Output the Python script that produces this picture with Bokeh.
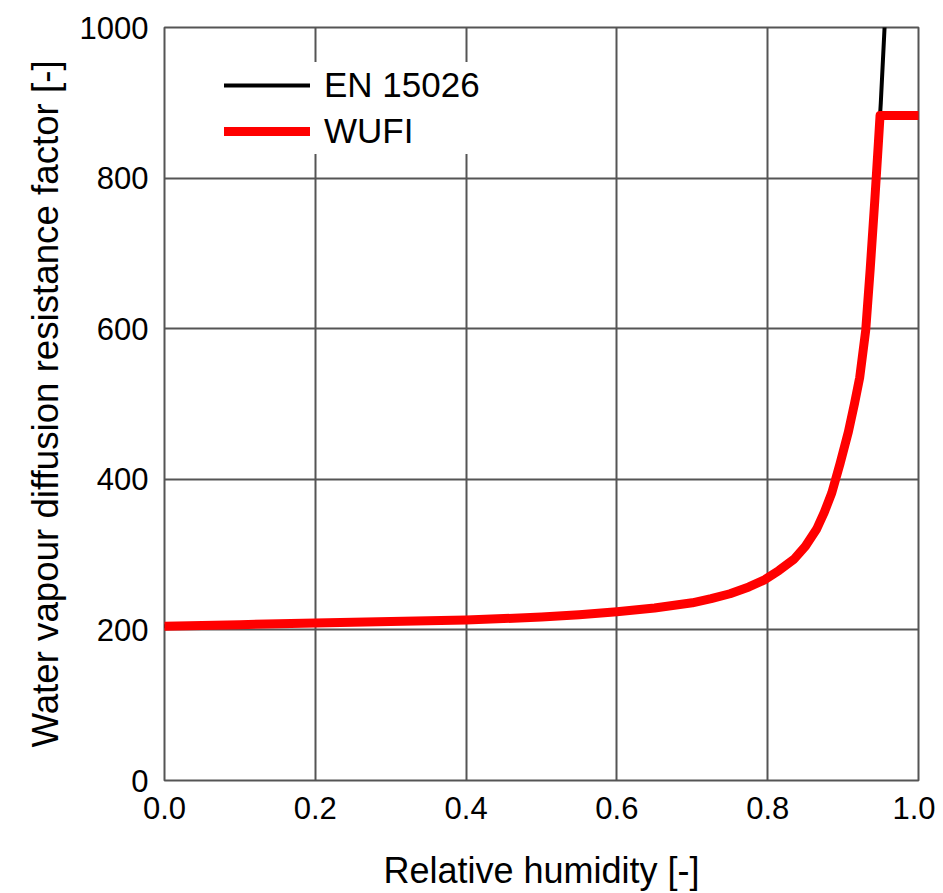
from bokeh.plotting import figure
from bokeh.models import Range1d, Legend, LegendItem, FixedTicker, Title
from bokeh.embed import file_html
from bokeh.resources import INLINE

# Relative humidity values (x) and diffusion resistance factors (y)
rh_wufi = [0.0, 0.1, 0.2, 0.3, 0.4, 0.5, 0.55, 0.6, 0.65, 0.7, 0.725, 0.75, 0.775, 0.795,
           0.815, 0.835, 0.85, 0.865, 0.875, 0.885, 0.896, 0.907, 0.915, 0.922,
           0.930, 0.936, 0.942, 0.947, 0.949, 1.0]
mu_wufi = [205, 207, 209, 211, 213, 217, 220, 224, 229, 236, 241.5, 248, 257, 266,
           279, 294, 311, 334, 356, 382, 421, 463, 500, 535,
           598, 680, 770, 850, 883, 883]

rh_en = [0.0, 0.1, 0.2, 0.3, 0.4, 0.5, 0.55, 0.6, 0.65, 0.7, 0.725, 0.75, 0.775, 0.795,
         0.815, 0.835, 0.85, 0.865, 0.875, 0.885, 0.896, 0.907, 0.915, 0.922,
         0.930, 0.936, 0.942, 0.947, 0.950, 0.956]
mu_en = [205, 207, 209, 211, 213, 217, 220, 224, 229, 236, 241.5, 248, 257, 266,
         279, 294, 311, 334, 356, 382, 421, 463, 500, 535,
         598, 680, 770, 850, 900, 1020]

x_ticks = [0.0, 0.2, 0.4, 0.6, 0.8, 1.0]
y_ticks = [0, 200, 400, 600, 800, 1000]

FONT = "Liberation Sans"
GRID = "#555555"

p = figure(width=935, height=893, output_backend="svg", toolbar_location=None,
           x_range=Range1d(0, 1), y_range=Range1d(0, 1000),
           min_border_left=164, min_border_top=27, min_border_right=17, min_border_bottom=112)

r_en = p.line(rh_en, mu_en, line_color="black", line_width=4,
              line_join="round", line_cap="round")
r_wufi = p.line(rh_wufi, mu_wufi, line_color="#ff0000", line_width=9,
                line_join="round", line_cap="round")

for ax in (p.xaxis[0], p.yaxis[0]):
    ax.axis_line_color = None
    ax.major_tick_line_color = None
    ax.minor_tick_line_color = None
    ax.major_label_text_font = FONT
    ax.major_label_text_font_size = "31px"
    ax.major_label_text_color = "black"
    ax.axis_label_text_font = FONT
    ax.axis_label_text_font_style = "normal"
    ax.axis_label_text_color = "black"
    ax.major_label_standoff = 10

p.xaxis.axis_label_text_font_size = "36px"
p.xaxis.ticker = FixedTicker(ticks=x_ticks)
p.yaxis.ticker = FixedTicker(ticks=y_ticks)
p.xaxis.major_label_overrides = {v: f"{v:.1f}" for v in x_ticks}
p.xaxis.axis_label = "Relative humidity [-]"
p.xaxis.axis_label_standoff = 28

ytitle = Title(text="Water vapour diffusion resistance factor [-]", align="center",
               text_font=FONT, text_font_size="36.7px", text_font_style="normal",
               text_color="black", offset=40, standoff=22)
p.add_layout(ytitle, "left")

p.xgrid.ticker = FixedTicker(ticks=x_ticks)
p.ygrid.ticker = FixedTicker(ticks=y_ticks)
for g in (p.xgrid[0], p.ygrid[0]):
    g.grid_line_color = GRID
    g.grid_line_width = 2
    g.grid_line_alpha = 1

p.outline_line_color = GRID
p.outline_line_width = 2
p.outline_line_alpha = 1

legend = Legend(items=[LegendItem(label="EN 15026", renderers=[r_en]),
                       LegendItem(label="WUFI", renderers=[r_wufi])],
                location=(60, 626), label_text_font=FONT, label_text_font_size="35px",
                label_text_color="black",
                glyph_width=86, glyph_height=46, label_height=46, spacing=0,
                padding=0, margin=0, border_line_color=None,
                background_fill_color="white", background_fill_alpha=1,
                label_standoff=14)
p.add_layout(legend)

p.background_fill_color = "white"
p.border_fill_color = "white"

open("out.html", "w").write(file_html(p, INLINE))
